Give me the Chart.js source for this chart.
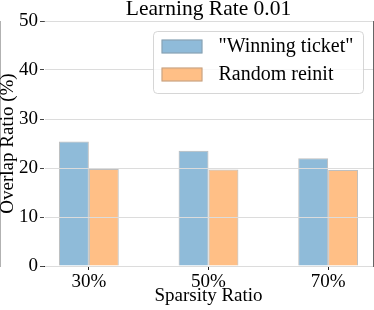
<!DOCTYPE html>
<html>
<head>
<meta charset="utf-8">
<script src="https://cdn.jsdelivr.net/npm/chart.js@4/dist/chart.umd.min.js"></script>
<style>
body { margin: 0; background: #fff; }
</style>
</head>
<body>
<canvas id="chart" width="374" height="310"></canvas>
<script>
const sparsity = ['30%', '50%', '70%'];
const winningTicket = [25.4, 23.5, 22.0];
const randomReinit = [19.8, 19.7, 19.6];
const yTicks = [0, 10, 20, 30, 40, 50];
const seriesNames = ['"Winning ticket"', 'Random reinit'];

const serif = "'Liberation Serif', 'DejaVu Serif', serif";

// legend drawn inside the plot area, top right, like matplotlib
const innerLegend = {
    id: 'innerLegend',
    afterDraw(chart) {
        const ctx = chart.ctx;
        const area = chart.chartArea;
        const w = 210, h = 62;
        const x = area.right - 9.5 - w;
        const y = area.top + 10.5;
        ctx.save();
        ctx.beginPath();
        ctx.roundRect(x, y, w, h, 4);
        ctx.fillStyle = 'rgba(255,255,255,0.8)';
        ctx.fill();
        ctx.strokeStyle = 'rgba(204,204,204,0.8)';
        ctx.lineWidth = 1;
        ctx.stroke();
        ctx.font = '20px ' + serif;
        ctx.textBaseline = 'middle';
        chart.data.datasets.forEach((ds, i) => {
            const py = y + 8 + i * 28;
            ctx.fillStyle = ds.backgroundColor;
            ctx.fillRect(x + 8, py, 41, 14);
            ctx.strokeStyle = ds.borderColor;
            ctx.strokeRect(x + 8.5, py + 0.5, 40, 13);
            ctx.fillStyle = '#000';
            ctx.fillText(ds.label, x + 65, py + 7.5);
        });
        ctx.restore();
    }
};

const ctx = document.getElementById('chart').getContext('2d');
new Chart(ctx, {
    type: 'bar',
    data: {
        datasets: [{
            label: seriesNames[0],
            data: winningTicket.map((v, i) => ({ x: i, y: v })),
            backgroundColor: 'rgba(31,119,180,0.5)',
            borderColor: 'rgba(128,128,128,0.5)',
            borderWidth: 1
        }, {
            label: seriesNames[1],
            data: randomReinit.map((v, i) => ({ x: i, y: v })),
            backgroundColor: 'rgba(255,127,14,0.5)',
            borderColor: 'rgba(128,128,128,0.5)',
            borderWidth: 1
        }]
    },
    options: {
        responsive: false,
        animation: false,
        devicePixelRatio: 1,
        layout: { padding: 0 },
        barPercentage: 1.0,
        categoryPercentage: 0.5,
        plugins: {
            legend: { display: false },
            title: { display: false },
            tooltip: { enabled: false }
        },
        scales: {
            x: {
                type: 'linear',
                position: 'bottom',
                offset: false,
                min: -0.375,
                max: 2.375,
                afterBuildTicks: axis => { axis.ticks = sparsity.map((_, i) => ({ value: i })); },
                afterFit: axis => { axis.height = 44; },
                ticks: {
                    callback: v => sparsity[v],
                    font: { family: serif, size: 19 },
                    color: '#000',
                    padding: 1,
                    maxRotation: 0
                },
                grid: { offset: false, drawOnChartArea: false, tickLength: 4, tickColor: '#222' },
                border: { color: '#222', width: 1 },
                title: {
                    display: true,
                    text: 'Sparsity Ratio',
                    font: { family: serif, size: 19 },
                    color: '#000',
                    padding: { top: 0, bottom: 3 }
                }
            },
            xTop: {
                type: 'linear',
                position: 'top',
                offset: false,
                min: -0.375,
                max: 2.375,
                afterFit: axis => { axis.height = 21; },
                ticks: { display: false },
                grid: { offset: false, drawOnChartArea: false, drawTicks: false },
                border: { color: '#666', width: 1 },
                title: {
                    display: true,
                    text: 'Learning Rate 0.01',
                    font: { family: serif, size: 21.5 },
                    color: '#000',
                    padding: { top: -4, bottom: 0 }
                }
            },
            y: {
                min: 0,
                max: 50,
                afterBuildTicks: axis => { axis.ticks = yTicks.map(v => ({ value: v })); },
                afterFit: axis => { axis.width = 44; },
                ticks: {
                    font: { family: serif, size: 19 },
                    color: '#000',
                    padding: 2
                },
                grid: { color: '#dcdcdc', tickLength: 4, tickColor: '#444', z: 1 },
                border: { color: '#666', width: 1 },
                title: {
                    display: true,
                    text: 'Overlap Ratio (%)',
                    font: { family: serif, size: 19 },
                    color: '#000',
                    padding: { top: -3, bottom: 0 }
                }
            },
            yRight: {
                position: 'right',
                min: 0,
                max: 50,
                afterFit: axis => { axis.width = 1; },
                ticks: { display: false },
                grid: { drawOnChartArea: false, drawTicks: false },
                border: { color: '#666', width: 1 }
            }
        }
    },
    plugins: [innerLegend]
});
</script>
</body>
</html>
